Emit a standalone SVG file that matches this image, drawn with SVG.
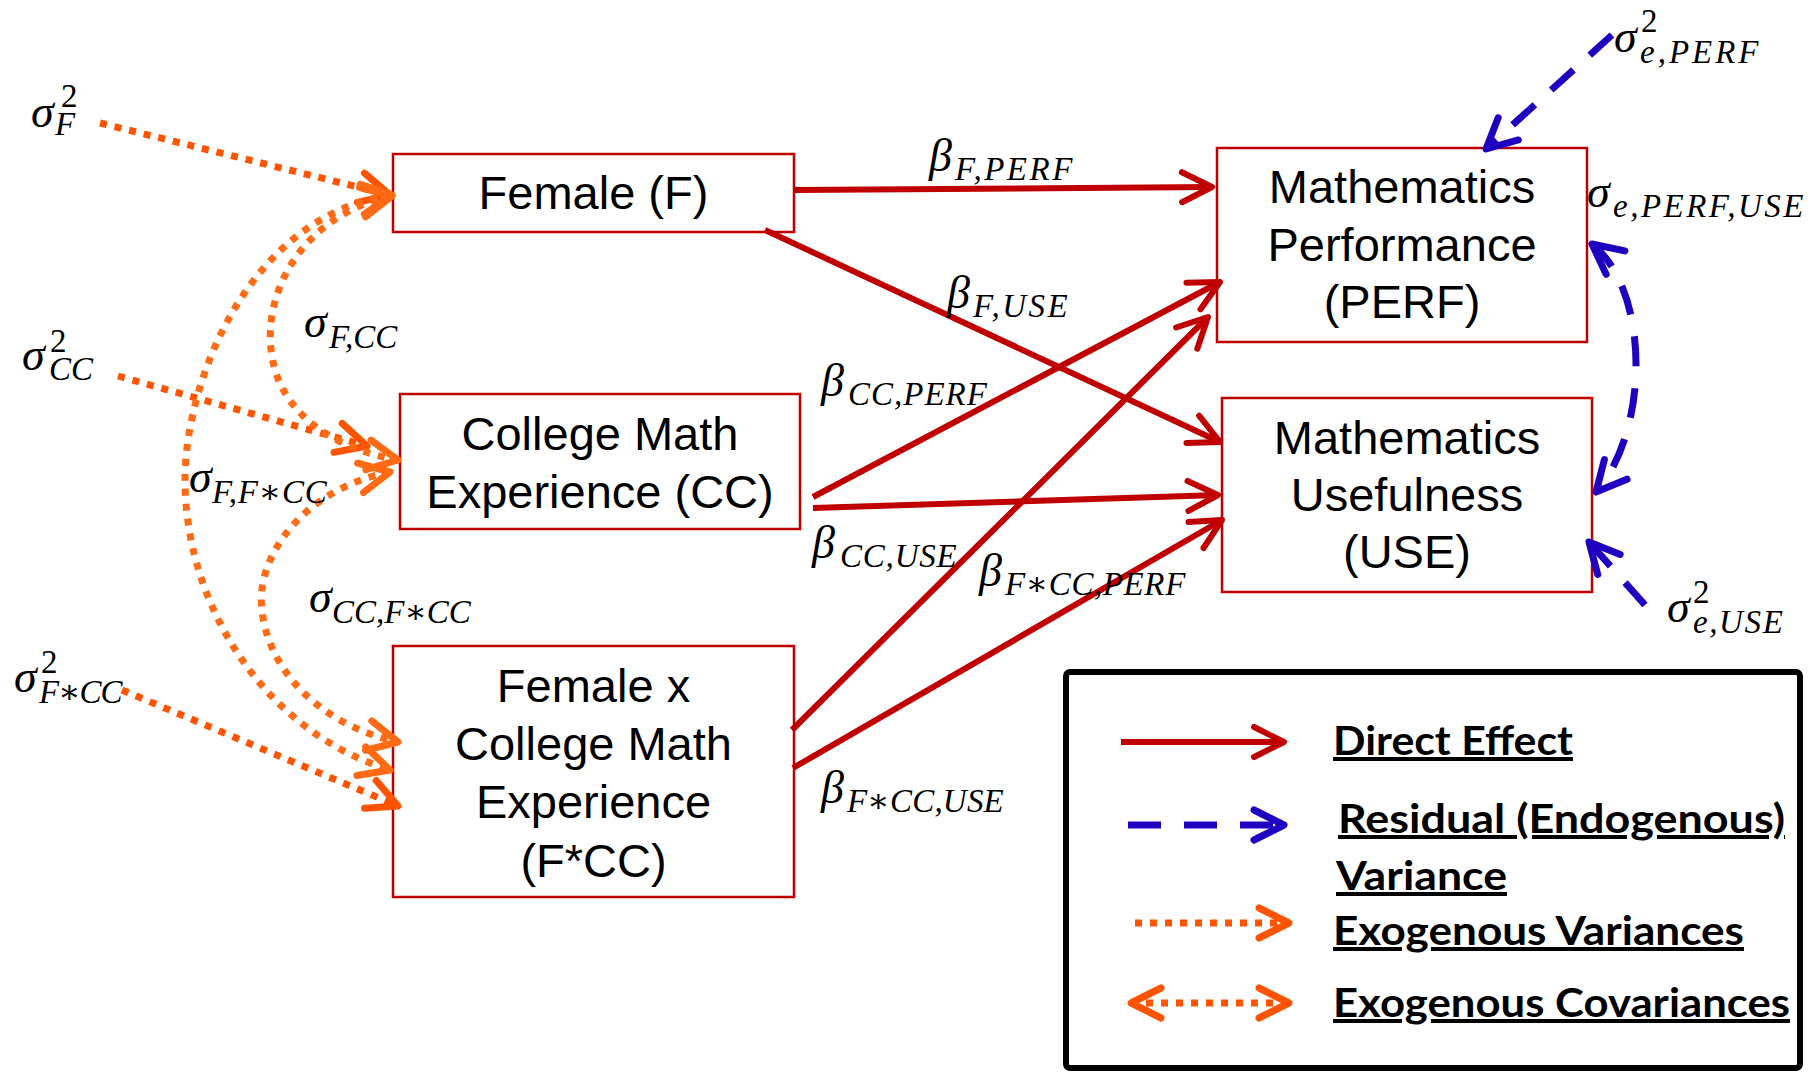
<svg xmlns="http://www.w3.org/2000/svg" width="1816" height="1081" viewBox="0 0 1816 1081">
<style>
.box{fill:#fff;stroke:#C00000;stroke-width:2.5}
.nt{font-family:"Liberation Sans",Arial,sans-serif;font-size:47px;fill:#000;text-anchor:middle}
.red{fill:none;stroke:#C00000;stroke-width:6}
.blue{fill:none;stroke:#2000C0;stroke-width:7;stroke-dasharray:30 22}
.orv{fill:none;stroke:#FF5300;stroke-width:7;stroke-dasharray:7 8}
.orc{fill:none;stroke:#FF6A14;stroke-width:7;stroke-dasharray:7 8}
.m{font-family:"Liberation Serif","DejaVu Serif",serif;font-style:italic;font-size:46px;fill:#000}
.s{font-size:33px}
.sup{font-style:normal;font-size:33px}
.lg{font-family:Lato,"Liberation Sans",sans-serif;font-weight:700;font-size:40px;fill:#000;text-decoration:underline}
</style>
<defs>
<marker id="arrRed" markerUnits="userSpaceOnUse" viewBox="-40 -22 50 44" markerWidth="50" markerHeight="44" refX="0" refY="0" orient="auto-start-reverse">
<path d="M-30,-15 L0,0 L-30,15" fill="none" stroke="#C00000" stroke-width="6" stroke-linecap="round" stroke-linejoin="round"/>
</marker>
<marker id="arrBlue" markerUnits="userSpaceOnUse" viewBox="-40 -22 50 44" markerWidth="50" markerHeight="44" refX="0" refY="0" orient="auto-start-reverse">
<path d="M-30,-15 L0,0 L-30,15" fill="none" stroke="#2000C0" stroke-width="7" stroke-linecap="round" stroke-linejoin="round"/>
</marker>
<marker id="arrOrV" markerUnits="userSpaceOnUse" viewBox="-40 -22 50 44" markerWidth="50" markerHeight="44" refX="0" refY="0" orient="auto-start-reverse">
<path d="M-30,-15 L0,0 L-30,15" fill="none" stroke="#FF5300" stroke-width="7" stroke-linecap="round" stroke-linejoin="round"/>
</marker>
<marker id="arrOrC" markerUnits="userSpaceOnUse" viewBox="-40 -22 50 44" markerWidth="50" markerHeight="44" refX="0" refY="0" orient="auto-start-reverse">
<path d="M-30,-15 L0,0 L-30,15" fill="none" stroke="#FF6A14" stroke-width="7" stroke-linecap="round" stroke-linejoin="round"/>
</marker>
</defs>
<rect width="1816" height="1081" fill="#fff"/>

<g id="node-F">
<rect class="box" x="393" y="154" width="401" height="78"/>
<text class="nt" x="593.5" y="209">Female (F)</text>
</g>
<g id="node-CC">
<rect class="box" x="400" y="394" width="400" height="135"/>
<text class="nt" x="600" y="450">College Math</text>
<text class="nt" x="600" y="508">Experience (CC)</text>
</g>
<g id="node-FCC">
<rect class="box" x="393" y="646" width="401" height="251"/>
<text class="nt" x="593.5" y="702">Female x</text>
<text class="nt" x="593.5" y="760">College Math</text>
<text class="nt" x="593.5" y="818">Experience</text>
<text class="nt" x="593.5" y="877">(F*CC)</text>
</g>
<g id="node-PERF">
<rect class="box" x="1217" y="148" width="370" height="194"/>
<text class="nt" x="1402" y="203">Mathematics</text>
<text class="nt" x="1402" y="261">Performance</text>
<text class="nt" x="1402" y="318">(PERF)</text>
</g>
<g id="node-USE">
<rect class="box" x="1222" y="398" width="370" height="194"/>
<text class="nt" x="1407" y="454">Mathematics</text>
<text class="nt" x="1407" y="511">Usefulness</text>
<text class="nt" x="1407" y="568">(USE)</text>
</g>

<g id="connectors">
<path class="red" d="M795,190 L1212,187" marker-end="url(#arrRed)"/>
<path class="red" d="M765,230 L1220,442" marker-end="url(#arrRed)"/>
<path class="red" d="M813,497 L1220,282" marker-end="url(#arrRed)"/>
<path class="red" d="M813,508 L1218,495" marker-end="url(#arrRed)"/>
<path class="red" d="M792,730 L1208,317" marker-end="url(#arrRed)"/>
<path class="red" d="M793,768 L1222,520" marker-end="url(#arrRed)"/>

<path class="blue" d="M1612,35 L1486,149" marker-end="url(#arrBlue)"/>
<path class="blue" d="M1645,605 L1589,542" marker-end="url(#arrBlue)"/>
<path class="blue" d="M1592,244 C1650,290 1650,430 1596,492" marker-start="url(#arrBlue)" marker-end="url(#arrBlue)"/>

<path class="orv" d="M100,123 L390,195" marker-end="url(#arrOrV)"/>
<path class="orv" d="M118,376 L367,446" marker-end="url(#arrOrV)"/>
<path class="orv" d="M122,690 L398,806" marker-end="url(#arrOrV)"/>

<path class="orc" d="M392,196 C300,215 255,300 275,370 C290,420 340,450 398,460" marker-start="url(#arrOrC)" marker-end="url(#arrOrC)"/>
<path class="orc" d="M392,195 C250,215 185,380 185,480 C185,600 260,730 390,770" marker-start="url(#arrOrC)" marker-end="url(#arrOrC)"/>
<path class="orc" d="M390,472 C300,490 255,560 262,610 C268,670 320,725 398,742" marker-start="url(#arrOrC)" marker-end="url(#arrOrC)"/>
</g>

<g id="labels">
<text class="m" x="31" y="127">σ<tspan class="sup" x="61" y="107">2</tspan><tspan class="s" x="55" y="135">F</tspan></text>
<text class="m" x="22" y="370">σ<tspan class="sup" x="50" y="352">2</tspan><tspan class="s" x="49" y="380">CC</tspan></text>
<text class="m" x="14" y="692">σ<tspan class="sup" x="41" y="673">2</tspan><tspan class="s" x="39" y="703" letter-spacing="-1">F∗CC</tspan></text>

<text class="m" x="304" y="337">σ<tspan class="s" x="329" y="348" letter-spacing="0">F,CC</tspan></text>
<text class="m" x="189" y="492">σ<tspan class="s" x="212" y="503" letter-spacing="0.8">F,F∗CC</tspan></text>
<text class="m" x="309" y="612">σ<tspan class="s" x="332" y="623" letter-spacing="0">CC,F∗CC</tspan></text>

<text class="m" x="929" y="171">β<tspan class="s" x="955" y="180" letter-spacing="2.5">F,PERF</tspan></text>
<text class="m" x="947" y="308">β<tspan class="s" x="973" y="317" letter-spacing="2.5">F,USE</tspan></text>
<text class="m" x="821" y="396">β<tspan class="s" x="848" y="405" letter-spacing="1">CC,PERF</tspan></text>
<text class="m" x="812" y="558">β<tspan class="s" x="840" y="567" letter-spacing="0.8">CC,USE</tspan></text>
<text class="m" x="979" y="586">β<tspan class="s" x="1005" y="595" letter-spacing="0.6">F∗CC,PERF</tspan></text>
<text class="m" x="821" y="803">β<tspan class="s" x="847" y="812" letter-spacing="0.2">F∗CC,USE</tspan></text>

<text class="m" x="1614" y="52">σ<tspan class="sup" x="1641" y="32">2</tspan><tspan class="s" x="1640" y="63" letter-spacing="3">e,PERF</tspan></text>
<text class="m" x="1587" y="207">σ<tspan class="s" x="1613" y="217" letter-spacing="2.5">e,PERF,USE</tspan></text>
<text class="m" x="1667" y="622">σ<tspan class="sup" x="1693" y="603">2</tspan><tspan class="s" x="1693" y="633" letter-spacing="1.6">e,USE</tspan></text>
</g>

<g id="legend">
<rect x="1066" y="672" width="734" height="396" rx="4" fill="none" stroke="#000" stroke-width="6"/>
<path class="red" d="M1121,742 L1284,742" marker-end="url(#arrRed)"/>
<path class="blue" d="M1128,825 L1284,825" style="stroke-dasharray:33 23" marker-end="url(#arrBlue)"/>
<path class="orv" d="M1135,923 L1289,923" marker-end="url(#arrOrV)"/>
<path class="orv" d="M1131,1003 L1289,1003" marker-start="url(#arrOrV)" marker-end="url(#arrOrV)"/>
<text class="lg" x="1333" y="755" textLength="240" lengthAdjust="spacingAndGlyphs">Direct Effect</text>
<text class="lg" x="1338" y="833" textLength="447" lengthAdjust="spacingAndGlyphs">Residual (Endogenous)</text>
<text class="lg" x="1336" y="890" textLength="171" lengthAdjust="spacingAndGlyphs">Variance</text>
<text class="lg" x="1333" y="945" textLength="411" lengthAdjust="spacingAndGlyphs">Exogenous Variances</text>
<text class="lg" x="1333" y="1017" textLength="457" lengthAdjust="spacingAndGlyphs">Exogenous Covariances</text>
</g>
</svg>
